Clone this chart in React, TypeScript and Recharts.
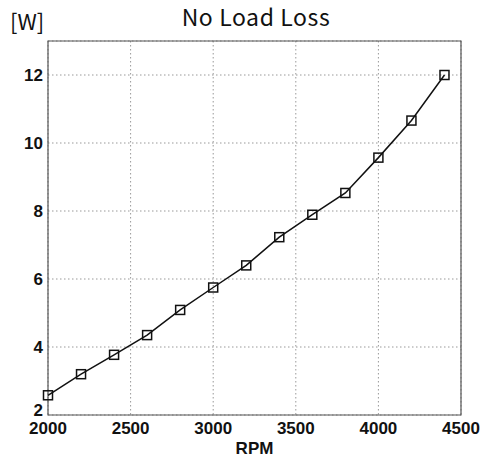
import { LineChart, Line, XAxis, YAxis, CartesianGrid, ReferenceArea } from 'recharts';

const rpm = [2000, 2200, 2400, 2600, 2800, 3000, 3200, 3400, 3600, 3800, 4000, 4200, 4400];
const loss = [2.58, 3.2, 3.77, 4.35, 5.09, 5.75, 6.4, 7.23, 7.89, 8.53, 9.57, 10.66, 12.0];
const xTicks = [2000, 2500, 3000, 3500, 4000, 4500];
const yTicks = [2, 4, 6, 8, 10, 12];

const data = rpm.map((r, i) => ({ rpm: r, loss: loss[i] }));

const tickFont = { fontFamily: '"Liberation Sans", Arial, sans-serif', fontWeight: 700, fontSize: 17, fill: '#111' };
const titleFont = { fontFamily: '"Noto Sans CJK KR", "Noto Sans", sans-serif', fill: '#111' };

const SquareDot = (props: any) => {
  const { cx, cy } = props;
  if (cx == null || cy == null) return null;
  return <rect x={cx - 4.5} y={cy - 4.5} width={9} height={9} fill="none" stroke="#111" strokeWidth={1.5} />;
};

const YTick = (props: any) => {
  const { x, y, payload } = props;
  return (
    <text x={x} y={payload.value === 2 ? y - 5 : y} dy={6} textAnchor="end" style={tickFont}>
      {payload.value}
    </text>
  );
};

const App = () => {
  return (
    <div style={{ position: 'absolute', left: 0, top: 0, width: 489, height: 460, background: '#fff' }}>
      <LineChart width={489} height={460} data={data} margin={{ top: 41, right: 28, bottom: 15, left: 8 }}>
        <text x={256} y={26} textAnchor="middle" style={{ ...titleFont, fontSize: 23, letterSpacing: 0.6 }}>
          No Load Loss
        </text>
        <text x={10} y={30} style={{ ...titleFont, fontSize: 22 }}>
          [W]
        </text>
        <CartesianGrid stroke="#999" strokeDasharray="1.5 2.5" />
        <XAxis
          dataKey="rpm"
          type="number"
          domain={[2000, 4500]}
          ticks={xTicks}
          tick={tickFont}
          tickLine={false}
          axisLine={false}
          height={30}
          interval={0}
          tickSize={4}
          tickMargin={3}
          label={{ value: 'RPM', position: 'insideBottom', offset: -9, style: { ...tickFont, fontSize: 17 } }}
        />
        <YAxis
          type="number"
          domain={[2, 13]}
          ticks={yTicks}
          tick={<YTick />}
          tickLine={false}
          axisLine={false}
          width={40}
          tickSize={5}
          tickMargin={0}
          interval={0}
        />
        <ReferenceArea x1={2000} x2={4500} y1={2} y2={13} fill="none" stroke="#555" strokeWidth={1.2} ifOverflow="visible" />
        <Line
          dataKey="loss"
          stroke="#111"
          strokeWidth={1.5}
          dot={<SquareDot />}
          activeDot={false}
          isAnimationActive={false}
        />
      </LineChart>
    </div>
  );
};

export default App;
